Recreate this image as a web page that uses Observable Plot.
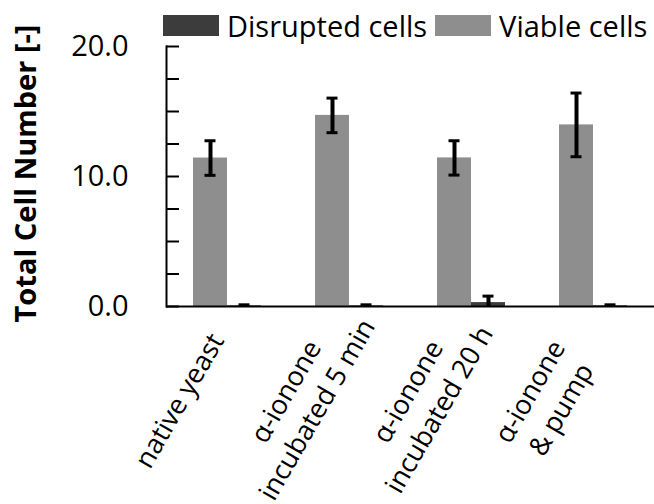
<!DOCTYPE html>
<html><head><meta charset="utf-8">
<script src="https://cdn.jsdelivr.net/npm/d3@7"></script>
<script src="https://cdn.jsdelivr.net/npm/@observablehq/plot@0.6"></script>
<style>
body{margin:0;background:#fff;}
#wrap{position:relative;width:654px;height:504px;font-family:"Open Sans",sans-serif;}
#legend{position:absolute;top:11px;left:163px;display:flex;align-items:center;font-size:29px;line-height:1;color:#000;white-space:nowrap;}
#legend .sw{width:56px;height:21px;margin-right:8px;}
#legend .lab{margin-right:8px;}
</style></head><body>
<div id="wrap"><div id="chart"></div><div id="legend"></div></div>
<script>
const categories = ["native yeast", "α-ionone\nincubated 5 min", "α-ionone\nincubated 20 h", "α-ionone\n& pump"];
const series = ["Viable cells", "Disrupted cells"];
const legendOrder = ["Disrupted cells", "Viable cells"];
const viable = [11.42, 14.70, 11.43, 13.97];
const viableErr = [1.33, 1.33, 1.32, 2.45];
const disrupted = [0.05, 0.05, 0.30, 0.05];
const disruptedErr = [0.08, 0.08, 0.50, 0.08];
const yTicks = [0, 2.5, 5, 7.5, 10, 12.5, 15, 17.5, 20];
const yLabels = [0, 10, 20];
const yTitle = "Total Cell Number [-]";
const colors = ["#8e8e8e", "#3c3c3c"];

const rows = [];
categories.forEach((c, i) => {
  rows.push({group: c, series: series[0], value: viable[i], err: viableErr[i]});
  rows.push({group: c, series: series[1], value: disrupted[i], err: disruptedErr[i]});
});
const lo = d => d.value - d.err;
const hi = d => d.value + d.err;

const chart = Plot.plot({
  width: 654, height: 504,
  marginTop: 46, marginBottom: 198, marginLeft: 166, marginRight: 0,
  style: {fontFamily: "Open Sans", fontSize: "29px", color: "#000", background: "#fff"},
  fx: {domain: categories, padding: 0, axis: null},
  x: {domain: series, paddingInner: 0, paddingOuter: 0.743, axis: null},
  y: {domain: [0, 20], axis: null},
  color: {domain: series, range: colors},
  marks: [
    Plot.barY(rows, {fx: "group", x: "series", y: "value", fill: "series"}),
    Plot.ruleX(rows, {fx: "group", x: "series", y1: lo, y2: hi, stroke: "#000", strokeWidth: 4, clip: true}),
    Plot.tickY(rows, {fx: "group", x: "series", y: lo, stroke: "#000", strokeWidth: 3, insetLeft: 11.5, insetRight: 11.5, clip: true}),
    Plot.tickY(rows, {fx: "group", x: "series", y: hi, stroke: "#000", strokeWidth: 3, insetLeft: 11.5, insetRight: 11.5, clip: true}),
    Plot.ruleY([0], {stroke: "#000", strokeWidth: 2}),
    Plot.frame({anchor: "left", facetAnchor: "left", stroke: "#000", strokeWidth: 2}),
    Plot.axisY({ticks: yTicks, tickSize: 13, dx: 13, text: null, label: null, stroke: "#000", strokeWidth: 2}),
    Plot.axisY({ticks: yLabels, tickSize: 0, tickPadding: 38, tickFormat: d => d.toFixed(1), label: null, fontSize: 29}),
    Plot.text([yTitle], {text: d => d, frameAnchor: "left", textAnchor: "middle", lineAnchor: "middle", rotate: -90, dx: -140, dy: -3, fontWeight: "bold", fontSize: 29, facetAnchor: "left", fill: "#000"}),
    Plot.text(categories, {fx: d => d, text: d => d, frameAnchor: "bottom", rotate: -60, textAnchor: "middle", lineAnchor: "middle", dx: -50, dy: 93, fontSize: 27, lineHeight: 1.33, fill: "#000"})
  ]
});
document.getElementById("chart").appendChild(chart);

const legend = document.getElementById("legend");
const colorOf = Object.fromEntries(series.map((s, i) => [s, colors[i]]));
legendOrder.forEach(s => {
  const sw = document.createElement("span");
  sw.className = "sw"; sw.style.background = colorOf[s];
  const lab = document.createElement("span");
  lab.className = "lab"; lab.textContent = s;
  legend.appendChild(sw); legend.appendChild(lab);
});
</script>
</body></html>
